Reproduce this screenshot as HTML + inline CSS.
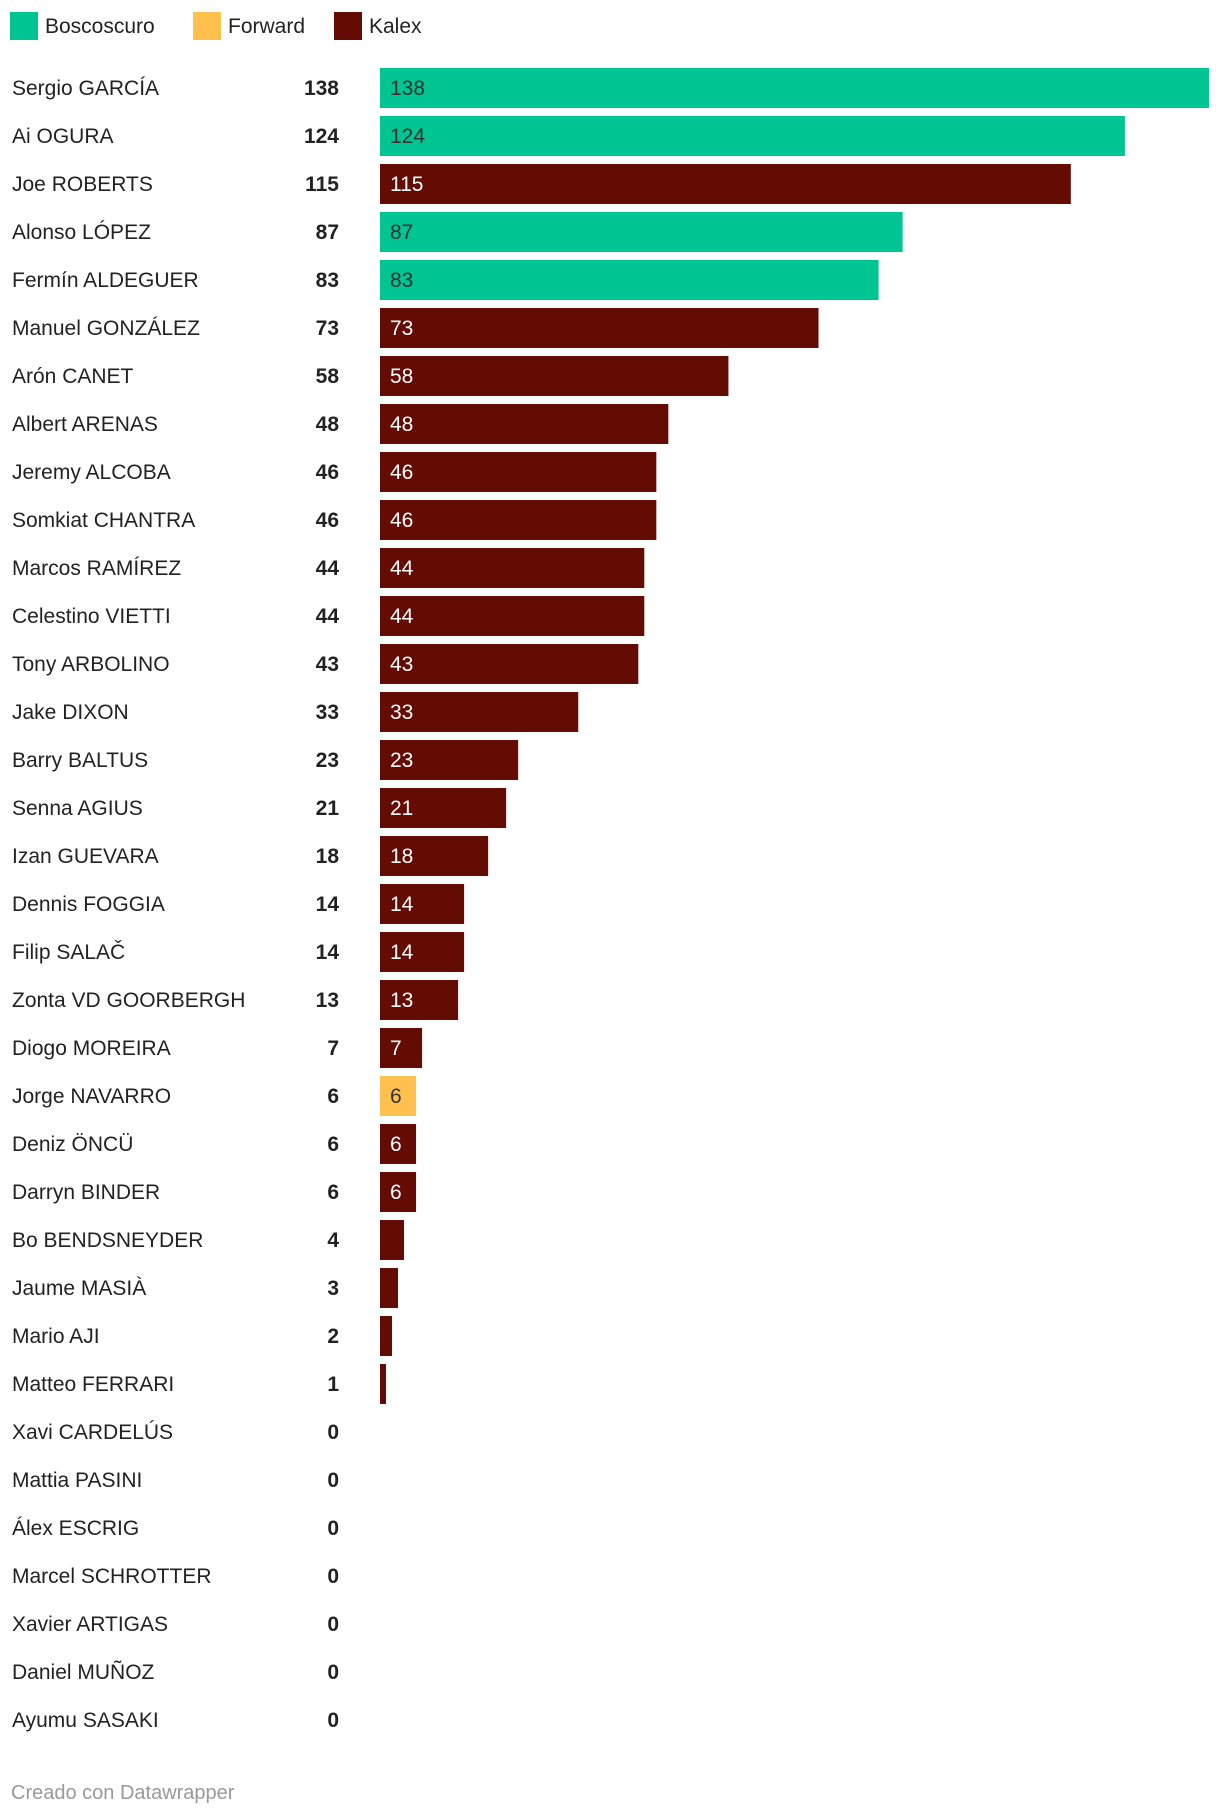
<!DOCTYPE html>
<html><head><meta charset="utf-8"><style>
body{margin:0;background:#fff;font-family:"Liberation Sans",sans-serif;width:1220px;height:1818px;overflow:hidden;position:relative}
.abs{position:absolute}
</style></head><body>
<svg id="chart" class="abs" style="left:0;top:0" width="1220" height="1818"></svg>
<div class="abs" style="left:11px;top:1782px;font-size:20px;color:#999">Creado con Datawrapper</div>
<script>
const names=["Sergio GARCÍA","Ai OGURA","Joe ROBERTS","Alonso LÓPEZ","Fermín ALDEGUER","Manuel GONZÁLEZ","Arón CANET","Albert ARENAS","Jeremy ALCOBA","Somkiat CHANTRA","Marcos RAMÍREZ","Celestino VIETTI","Tony ARBOLINO","Jake DIXON","Barry BALTUS","Senna AGIUS","Izan GUEVARA","Dennis FOGGIA","Filip SALAČ","Zonta VD GOORBERGH","Diogo MOREIRA","Jorge NAVARRO","Deniz ÖNCÜ","Darryn BINDER","Bo BENDSNEYDER","Jaume MASIÀ","Mario AJI","Matteo FERRARI","Xavi CARDELÚS","Mattia PASINI","Álex ESCRIG","Marcel SCHROTTER","Xavier ARTIGAS","Daniel MUÑOZ","Ayumu SASAKI"];
const values=[138,124,115,87,83,73,58,48,46,46,44,44,43,33,23,21,18,14,14,13,7,6,6,6,4,3,2,1,0,0,0,0,0,0,0];
const teams=["B","B","K","B","B","K","K","K","K","K","K","K","K","K","K","K","K","K","K","K","K","F","K","K","K","K","K","K","K","K","K","K","K","K","K"];
const legendKeys=["B","F","K"];
const legendLabels=["Boscoscuro","Forward","Kalex"];
const colors={B:"#00c491",F:"#ffc04d",K:"#640b03"};
const textCol={B:"#333",F:"#333",K:"#fff"};
const NS="http://www.w3.org/2000/svg";
const svg=document.getElementById('chart');
const x0=380,xw=829,maxV=138,y0=68,pitch=48.0,bh=40;
const xs=v=>v/maxV*xw;
const ys=i=>y0+i*pitch;
function t(x,y,s,opts){const e=document.createElementNS(NS,'text');e.setAttribute('x',x);e.setAttribute('y',y);e.textContent=s;for(const k in opts)e.setAttribute(k,opts[k]);svg.appendChild(e);return e;}
legendKeys.forEach((k,i)=>{
  const lx=[10,193,334][i];
  const r=document.createElementNS(NS,'rect');
  r.setAttribute('x',lx);r.setAttribute('y',12);r.setAttribute('width',28);r.setAttribute('height',28);r.setAttribute('fill',colors[k]);
  
  
  svg.appendChild(r);
  const e=t(lx+35,33,legendLabels[i],{'font-size':21,fill:'#222'});
  
  
});
names.forEach((n,i)=>{
  const y=ys(i),cy=y+bh/2+7;
  const a=t(12,cy,n,{'font-size':21,fill:'#222'});
  
  
  const b=t(339,cy,values[i],{'font-size':21,'font-weight':'bold',fill:'#222','text-anchor':'end'});
  
  
  if(values[i]>0){
    const r=document.createElementNS(NS,'rect');
    r.setAttribute('x',x0);r.setAttribute('y',y);r.setAttribute('width',xs(values[i]));r.setAttribute('height',bh);r.setAttribute('fill',colors[teams[i]]);
    
    
    svg.appendChild(r);
    if(values[i]>=5){
      const c=t(x0+10,cy,values[i],{'font-size':21,fill:textCol[teams[i]]});
      
      
    }
  }
});
</script>
</body></html>
